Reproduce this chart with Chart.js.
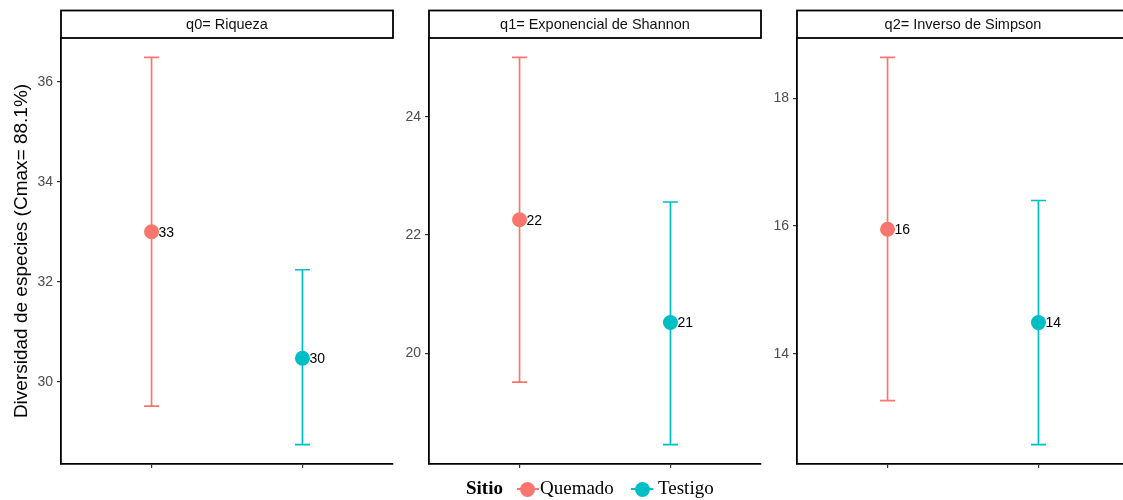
<!DOCTYPE html>
<html lang="es">
<head>
<meta charset="utf-8">
<title>Diversidad de especies por sitio</title>
<script src="https://cdn.jsdelivr.net/npm/chart.js@4.4.1/dist/chart.umd.min.js"></script>
<style>
  html, body { margin: 0; padding: 0; background: #ffffff; }
  #stage { position: relative; width: 1123px; height: 500px; overflow: hidden; background: #ffffff; }
  #stage canvas { position: absolute; top: 0; }
  .lg-text { position: absolute; top: 477px; font-family: 'Liberation Serif', 'Times New Roman', serif; font-size: 19px; line-height: 22px; color: #000; white-space: nowrap; }
  .lg-line { position: absolute; height: 2px; top: 488px; }
  .lg-dot { position: absolute; width: 15px; height: 15px; border-radius: 50%; top: 481.5px; }
</style>
</head>
<body>
<div id="stage">
  <canvas id="panel0"></canvas>
  <canvas id="panel1"></canvas>
  <canvas id="panel2"></canvas>
  <div class="lg-text" style="left:466px;font-weight:bold;">Sitio</div>
  <div class="lg-line" style="left:517px;width:22px;background:#F8766D;"></div>
  <div class="lg-dot" style="left:519.5px;background:#F8766D;"></div>
  <div class="lg-text" style="left:540px;">Quemado</div>
  <div class="lg-line" style="left:631px;width:22px;background:#00BFC4;"></div>
  <div class="lg-dot" style="left:634.5px;background:#00BFC4;"></div>
  <div class="lg-text" style="left:658px;">Testigo</div>
</div>
<script>
// Panels (Hill numbers q0, q1, q2) and sites
const panelTitles = ['q0= Riqueza', 'q1= Exponencial de Shannon', 'q2= Inverso de Simpson'];
const sites = ['Quemado', 'Testigo'];
const siteColors = ['#F8766D', '#00BFC4'];

// Estimates and confidence limits, one entry per panel
const quemadoEst  = [33.00, 22.26, 15.95];
const quemadoLow  = [29.51, 19.51, 13.27];
const quemadoHigh = [36.49, 25.01, 18.64];
const testigoEst  = [30.47, 20.52, 14.49];
const testigoLow  = [28.74, 18.45, 12.58];
const testigoHigh = [32.24, 22.56, 16.40];

// Y tick values per panel
const yTicks = [[30, 32, 34, 36], [20, 22, 24], [14, 16, 18]];

const yTitle = 'Diversidad de especies (Cmax= 88.1%)';

// Canvas placement: left edge, y-axis width, plot width
const layoutSpec = [
  { left: 0,   axisW: 61, plotW: 332 },
  { left: 389, axisW: 40, plotW: 332 },
  { left: 757, axisW: 40, plotW: 332 }
];
const edgeRoom = 2; // keeps the strip's right border inside the canvas

Chart.defaults.font.family = "'Liberation Sans', Arial, Helvetica, sans-serif";
Chart.defaults.color = '#000';

const errorBarPlugin = {
  id: 'errorBars',
  beforeDatasetsDraw(chart) {
    const ctx = chart.ctx;
    const y = chart.scales.y;
    ctx.save();
    chart.data.datasets.forEach((ds, di) => {
      const pt = chart.getDatasetMeta(di).data[0];
      const lo = y.getPixelForValue(ds.low);
      const hi = y.getPixelForValue(ds.high);
      const half = 7.5;
      ctx.strokeStyle = ds.backgroundColor;
      ctx.lineWidth = 1.7;
      ctx.beginPath();
      ctx.moveTo(pt.x, hi); ctx.lineTo(pt.x, lo);
      ctx.moveTo(pt.x - half, hi); ctx.lineTo(pt.x + half, hi);
      ctx.moveTo(pt.x - half, lo); ctx.lineTo(pt.x + half, lo);
      ctx.stroke();
    });
    ctx.restore();
  },
  afterDatasetsDraw(chart) {
    const ctx = chart.ctx;
    ctx.save();
    ctx.fillStyle = '#000';
    ctx.font = "14px 'Liberation Sans', Arial, sans-serif";
    ctx.textAlign = 'left';
    ctx.textBaseline = 'middle';
    chart.data.datasets.forEach((ds, di) => {
      const pt = chart.getDatasetMeta(di).data[0];
      ctx.fillText(String(Math.round(ds.data[0].y)), pt.x + 7, pt.y + 1);
    });
    ctx.restore();
  }
};

const stripPlugin = {
  id: 'strip',
  afterDraw(chart, args, opts) {
    const ctx = chart.ctx;
    const a = chart.chartArea;
    const top = 10.5, bottom = 38;
    ctx.save();
    ctx.fillStyle = '#ffffff';
    ctx.fillRect(a.left, top, a.right - a.left, bottom - top);
    ctx.strokeStyle = '#000';
    ctx.lineWidth = 1.8;
    ctx.strokeRect(a.left, top, a.right - a.left, bottom - top);
    ctx.fillStyle = '#111111';
    ctx.font = "14.5px 'Liberation Sans', Arial, sans-serif";
    ctx.textAlign = 'center';
    ctx.textBaseline = 'middle';
    ctx.fillText(opts.text, (a.left + a.right) / 2, (top + bottom) / 2 + 1);
    ctx.restore();
  }
};

function buildPanel(i) {
  const spec = layoutSpec[i];
  const canvas = document.getElementById('panel' + i);
  const w = spec.axisW + spec.plotW + edgeRoom;
  canvas.width = w;
  canvas.height = 500;
  canvas.style.left = spec.left + 'px';
  canvas.style.width = w + 'px';
  canvas.style.height = '500px';

  const est = [quemadoEst[i], testigoEst[i]];
  const low = [quemadoLow[i], testigoLow[i]];
  const high = [quemadoHigh[i], testigoHigh[i]];
  const lo = Math.min(...low), hi = Math.max(...high);
  const pad = (hi - lo) * 0.05;

  new Chart(canvas, {
    type: 'scatter',
    data: {
      datasets: sites.map((s, k) => ({
        label: s,
        data: [{ x: k + 1, y: est[k] }],
        low: low[k],
        high: high[k],
        backgroundColor: siteColors[k],
        borderColor: siteColors[k],
        borderWidth: 0,
        pointRadius: 7.5,
        pointHoverRadius: 7.5
      }))
    },
    options: {
      responsive: false,
      animation: false,
      events: [],
      layout: { autoPadding: false, padding: { top: 38, left: 0, right: edgeRoom, bottom: 0 } },
      plugins: {
        legend: { display: false },
        tooltip: { enabled: false },
        strip: { text: panelTitles[i] }
      },
      scales: {
        x: {
          type: 'linear',
          min: 0.4,
          max: 2.6,
          afterBuildTicks: (axis) => { axis.ticks = [{ value: 1 }, { value: 2 }]; },
          afterFit: (axis) => {
            axis.height = 36;
            axis.paddingLeft = 0; axis.paddingRight = 0;
          },
          ticks: { display: false },
          grid: { drawOnChartArea: false, drawTicks: true, tickLength: 4, color: '#333333', lineWidth: 1.2 },
          border: { display: true, color: '#000000', width: 1.8 }
        },
        y: {
          type: 'linear',
          min: lo - pad,
          max: hi + pad,
          afterBuildTicks: (axis) => { axis.ticks = yTicks[i].map(v => ({ value: v })); },
          afterFit: (axis) => {
            axis.width = spec.axisW;
            axis.paddingTop = 0; axis.paddingBottom = 0;
          },
          ticks: {
            color: '#4D4D4D',
            font: { size: 14 },
            padding: 4
          },
          grid: { drawOnChartArea: false, drawTicks: true, tickLength: 4, color: '#333333', lineWidth: 1.2 },
          border: { display: true, color: '#000000', width: 1.8 },
          title: {
            display: i === 0,
            text: yTitle,
            color: '#000000',
            font: { size: 19 },
            padding: { top: 10, bottom: 0 }
          }
        }
      }
    },
    plugins: [errorBarPlugin, stripPlugin]
  });
}

[0, 1, 2].forEach(buildPanel);
</script>
</body>
</html>
